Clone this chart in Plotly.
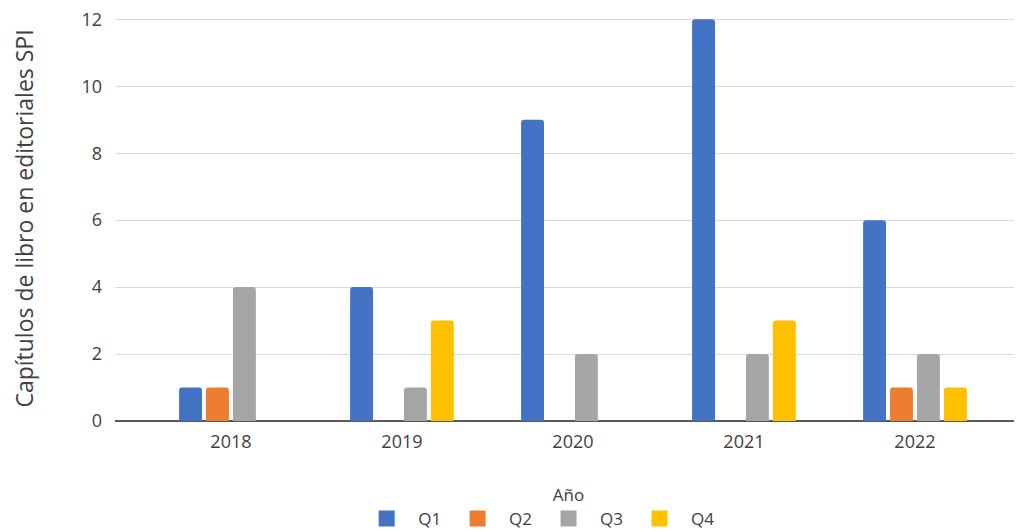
import plotly.graph_objects as go

years = ["2018", "2019", "2020", "2021", "2022"]
q1 = [1, 4, 9, 12, 6]
q2 = [1, 0, 0, 0, 1]
q3 = [4, 1, 2, 2, 2]
q4 = [0, 3, 0, 3, 1]
series_names = ["Q1", "Q2", "Q3", "Q4"]
colors = ["#4472C4", "#ED7D31", "#A5A5A5", "#FFC000"]

fig = go.Figure()
for name, vals, col in zip(series_names, [q1, q2, q3, q4], colors):
    fig.add_trace(go.Bar(
        x=years, y=[v if v != 0 else None for v in vals], name=name,
        marker=dict(color=col, line=dict(width=0), cornerradius=3),
        legendgroup=name, showlegend=False,
    ))
# legend entries with larger square swatches
for name, col in zip(series_names, colors):
    fig.add_trace(go.Scatter(
        x=[None], y=[None], mode="markers", name=name, legendgroup=name,
        marker=dict(symbol="square", size=16, color=col), showlegend=True,
    ))

font = "Open Sans, DejaVu Sans, sans-serif"
txt = "#404040"
fig.update_layout(
    width=1014, height=524,
    margin=dict(l=107, r=0, t=8, b=111, autoexpand=False),
    paper_bgcolor="white", plot_bgcolor="white",
    barmode="group", bargap=0.37, bargroupgap=0.15,
    font=dict(family=font, color=txt, size=18),
    showlegend=True,
    legend=dict(orientation="h", x=0.466, xanchor="center", y=-0.242, yanchor="middle",
                font=dict(size=17, color=txt), itemwidth=53, itemsizing="trace",
                traceorder="normal"),
    xaxis=dict(
        type="category", range=[-0.678, 4.626], automargin=False,
        showgrid=False, showline=False, zeroline=False,
        tickfont=dict(size=18, color=txt),
        ticklabelstandoff=8,
        title=dict(text="Año", font=dict(size=17, color=txt), standoff=37),
    ),
    yaxis=dict(
        range=[0, 12.1], tickmode="array", tickvals=[0, 2, 4, 6, 8, 10, 12],
        automargin=False, ticklabeloverflow="allow",
        showgrid=True, gridcolor="#D9D9D9", gridwidth=1,
        zeroline=True, zerolinecolor="#595959", zerolinewidth=1.5,
        showline=False,
        tickfont=dict(size=18, color=txt),
        ticklabelstandoff=12,
        title=dict(text="Capítulos de libro en editoriales SPI", font=dict(size=23, color=txt), standoff=50),
    ),
)

fig.write_html("out.html")
